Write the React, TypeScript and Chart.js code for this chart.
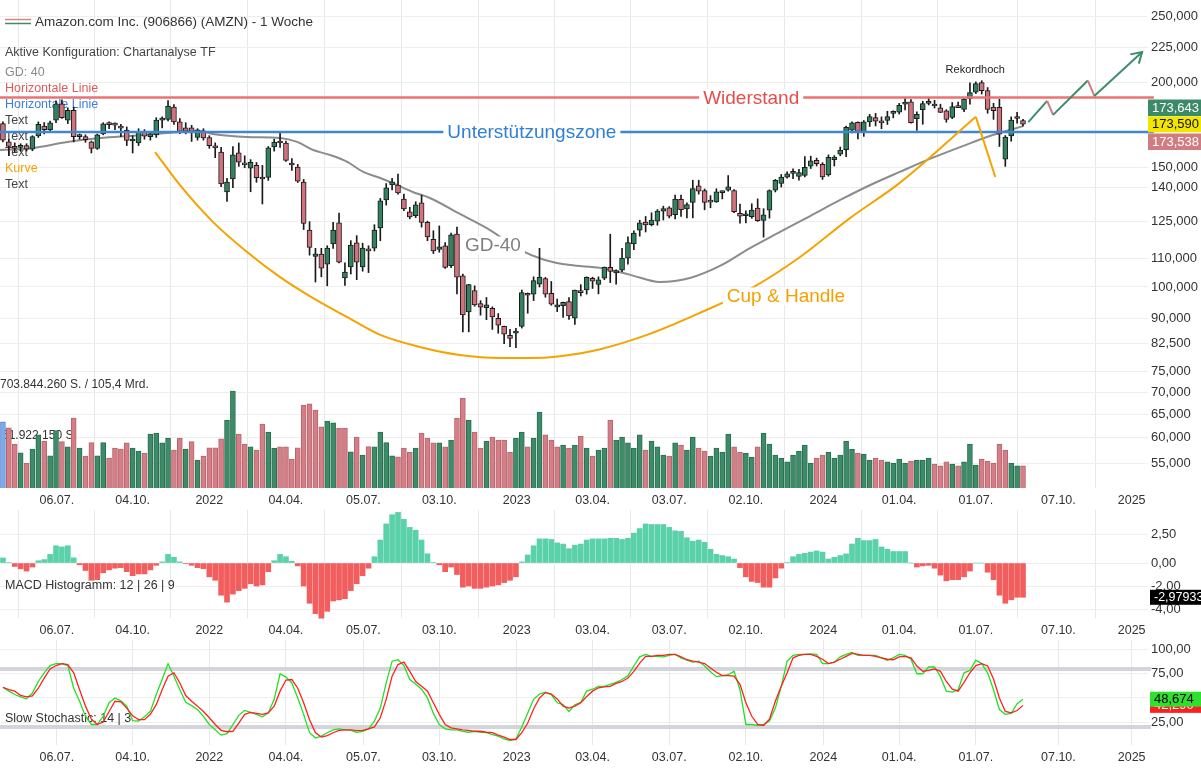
import React, { useEffect, useRef } from 'react';
import { Chart, registerables } from 'chart.js';

Chart.register(...registerables);

const FONT = '"Liberation Sans", Arial, Helvetica, sans-serif';

// ---------------- data ----------------
// week index: 0 = week of 05.07.2021, one candle per week
const FIRST_WEEK = -9;

const opens = [
  174, 163.5, 161, 160.5, 161.5, 159.5, 166.8, 172.5, 170.5, 176,
  186, 176, 182, 166.5, 166.5, 163.5, 160, 168, 174, 173.8,
  172.5, 170, 164, 163, 169, 166.5, 167.5, 176, 176.5, 184,
  175, 171.5, 171.5, 166, 169.8, 166, 160.5, 158, 138, 144.2,
  157.6, 152, 149.6, 151, 144.5, 145, 160.7, 164, 162.9, 151.6,
  150.2, 142.7, 121.3, 110.9, 111.8, 108, 115.7, 124.3, 103.1, 107,
  116.1, 107, 113.3, 114.1, 122.2, 134.3, 141.3, 141.3, 134.7, 129,
  127.3, 133, 124.5, 117.5, 113.6, 115, 107.5, 119.6, 103.9, 91.9,
  98.8, 94.5, 93.2, 93, 89.9, 87.5, 84.9, 85.5, 87.5, 97.5,
  97.6, 101, 102.9, 97.85, 93.5, 93.9, 95.2, 90, 98.4, 99,
  103, 100.9, 103, 106.9, 104.9, 105.9, 110.3, 115.7, 121.2, 124.6,
  123.5, 125, 129.3, 130.8, 127.8, 134.6, 130.3, 133.2, 140.9, 138.6,
  133.7, 133.4, 137.7, 138.8, 138.7, 128.4, 127.3, 126.9, 130.7, 125.3,
  129.7, 138.8, 142.1, 145.1, 147, 145.5, 146, 150.6, 153.6, 151.5,
  146.2, 154, 156.9, 159.3, 170.2, 174.8, 168.9, 175, 177.5, 175,
  175.8, 180.1, 180.8, 185.9, 187.3, 176.9, 182.4, 186.3, 185.4, 183.6,
  181.7, 177.7, 184.1, 182.5, 189.3, 193.5, 200, 194.6, 184, 183.8,
  154.2, 166.9, 177.5, 175.8,
];
const highs = [
  175, 165, 163, 162.5, 162.5, 167, 175, 174.6, 175.5, 188,
  188.6, 183.5, 184, 168, 167.5, 164, 168, 174.5, 175, 174.5,
  173.5, 172, 167, 171, 170.5, 169.5, 177.5, 178, 188.1, 185.5,
  177, 174.5, 173, 171, 171, 167, 163, 160.5, 144.5, 161,
  162.9, 156, 154, 152.5, 151, 161, 165, 169.1, 164, 154.5,
  151.5, 144, 124.8, 114, 114, 115, 124.5, 128.5, 108.5, 117,
  119, 116, 115, 123.5, 135, 142, 144.5, 146.6, 137, 131,
  133.5, 136.5, 125, 121, 123, 116.2, 120, 122.5, 104.5, 100.9,
  100.4, 95.5, 96.5, 93.5, 91.4, 87.6, 86.6, 86.9, 99, 98,
  103.5, 114, 103.3, 101.9, 96, 95, 96.5, 99, 100.8, 103.5,
  103.4, 103.5, 107, 119.6, 106, 114, 118.5, 121, 125.4, 127,
  128.6, 130, 131.5, 131.3, 136.6, 136.5, 133, 143.6, 143.6, 139.4,
  136.3, 139.5, 138.4, 145.9, 139.1, 132.5, 129.5, 132.6, 134.8, 130.4,
  139, 144, 146.4, 147.7, 149.3, 149, 155.6, 155.8, 154.8, 152.4,
  156.5, 156.1, 160.7, 172.5, 175, 175, 175.8, 179.5, 180.1, 178,
  181.4, 181.7, 186.3, 189.8, 188.7, 181, 187.7, 189.6, 188.3, 185.8,
  182.4, 186.9, 187.2, 189.8, 199.8, 200.4, 201.2, 196.6, 186.4, 189,
  167.1, 178, 180.8, 176.5,
];
const lows = [
  163.5, 156, 158, 158.5, 158.5, 158.7, 166, 168, 169.8, 174.5,
  177, 174, 163.5, 165, 163.3, 157.5, 159.4, 167.5, 171, 170.5,
  166.5, 161.5, 157.5, 161.5, 165, 164.5, 166, 171.5, 175.5, 173.5,
  168.2, 168, 163.8, 164.5, 164.5, 160, 155, 140.5, 133.6, 140,
  150.5, 149.8, 138.1, 142.6, 132.5, 143.5, 158.5, 160.5, 153, 148.5,
  142.5, 121.5, 111.4, 101.7, 103.5, 100.4, 114, 108.5, 100.5, 104.5,
  102.5, 105.5, 105, 113, 117, 132, 139, 137, 129.5, 126,
  126.5, 122.5, 117, 112, 112.5, 106.5, 106.8, 97.7, 85.9, 85.9,
  93.7, 90.9, 89.5, 86.6, 85.5, 82.5, 81.7, 81.4, 87, 91.5,
  95.5, 100, 96.6, 94, 92, 90.2, 89.6, 88.1, 97, 97.6,
  99.5, 97.7, 102.5, 101.5, 101, 105.3, 108, 113.5, 118.8, 120.5,
  123, 123.3, 125.5, 126.4, 125.9, 127, 126.4, 126.4, 137, 129.9,
  130.8, 133.2, 134.8, 138.4, 128.6, 124.1, 124.3, 126.2, 124.9, 118.4,
  126.3, 138, 140.3, 144.6, 144.4, 143.6, 145.2, 149.4, 150.7, 144,
  145.6, 150.7, 156, 155.6, 168.6, 165.2, 166.6, 172.3, 172.6, 171,
  173.5, 177.4, 179.7, 182.2, 174.2, 170, 173.6, 185.3, 183.4, 180.6,
  174.8, 176.9, 183.6, 181.2, 185.8, 192.6, 192.3, 180.2, 176.5, 161,
  150.5, 163.9, 174.3, 172.5,
];
const closes = [
  164.5, 161, 160, 160.8, 159.5, 166.5, 173.5, 170.5, 174.5, 186,
  177.5, 182, 166.4, 166.8, 164.7, 159.9, 167.5, 173.9, 173.4, 173.1,
  171.3, 164.3, 164.4, 169, 166.7, 168, 176, 176.2, 184.6, 175,
  169.4, 169.6, 169.5, 170.3, 165.7, 161.5, 160.2, 141.8, 142.7, 156.5,
  152.6, 151.3, 152.6, 144.8, 144.2, 160.2, 163.4, 162.9, 153.6, 151.2,
  143.2, 124, 114.4, 111.9, 106.6, 114.1, 121.3, 108.8, 105.2, 115.3,
  108.8, 114.1, 113, 121.3, 133.9, 139.9, 142.8, 137.5, 130.3, 126.8,
  132.1, 124.5, 118.5, 113, 114.6, 106.9, 119.3, 103.4, 91, 100.8,
  94.1, 93.4, 94.1, 90.35, 87.9, 85.25, 84, 86.1, 98.1, 97.25,
  102.2, 103.4, 97.6, 94.35, 93.5, 94.9, 90.7, 98.95, 98.1, 103.3,
  102, 102.5, 106.96, 105.45, 105.7, 110.3, 116.25, 120.1, 124.25, 123.4,
  125.5, 129.3, 130.4, 127.1, 134.7, 130, 132.2, 139.6, 138.4, 133.2,
  133.3, 138.1, 138.2, 140.4, 129.1, 127.1, 127.96, 129.8, 125.2, 127.7,
  138.6, 143.6, 145.2, 146.7, 147, 147.4, 149.97, 153.4, 151.9, 145.2,
  155.2, 155.3, 159.1, 171.8, 174.45, 169.5, 174.99, 178.2, 175.35, 174.4,
  178.15, 180.4, 185.1, 186.5, 174.6, 179.6, 186.2, 186.6, 184.7, 180.75,
  176.4, 184.3, 183.66, 189.1, 193.25, 199.3, 194.5, 182.5, 181.7, 167.9,
  166.2, 176.1, 177.04, 173.59,
];
// weekly volume, millions of shares
const volumesMio = [
  481, 437, 319, 256, 181, 283, 385, 341, 234, 416,
  336, 298, 508, 290, 232, 329, 234, 329, 218, 290,
  283, 327, 290, 268, 254, 392, 399, 327, 363, 276,
  363, 283, 336, 203, 232, 292, 292, 356, 493, 704,
  392, 319, 298, 276, 464, 406, 290, 298, 298, 210,
  292, 602, 610, 566, 443, 486, 472, 435, 435, 263,
  370, 239, 300, 298, 406, 329, 234, 227, 290, 261,
  290, 399, 363, 327, 327, 298, 348, 508, 653, 493,
  406, 290, 341, 370, 348, 348, 261, 363, 406, 298,
  363, 551, 385, 348, 298, 312, 290, 312, 377, 290,
  232, 276, 290, 493, 348, 370, 327, 290, 385, 276,
  341, 298, 239, 232, 327, 312, 276, 370, 290, 268,
  232, 290, 261, 392, 298, 261, 254, 225, 298, 399,
  319, 239, 218, 189, 239, 268, 312, 181, 218, 239,
  261, 218, 239, 341, 283, 254, 247, 203, 218, 203,
  189, 181, 210, 181, 196, 203, 203, 218, 174, 160,
  189, 174, 160, 189, 319, 167, 210, 196, 181, 319,
  276, 181, 160, 160,
];
const gd40Weeks = [
  -9.5, -3.9, 1.9, 7.5, 13.1, 18.8, 24.4, 26.6, 32.4, 38.0,
  40.9, 43.6, 46.5, 49.4, 52.1, 55.0, 57.8, 60.5, 63.4, 68.5,
  73.6, 78.7, 82.9, 87.2, 92.3, 97.4, 102.4, 107.5, 112.6, 117.7,
  122.8, 127.9, 133.0, 138.1, 143.1, 148.7, 154.0, 159.0, 164.0,
];
const gd40Values = [
  159.1, 160.2, 163.5, 165.7, 167.0, 168.5, 169.7, 168.0, 166.3, 165.7,
  163.5, 159.1, 156.4, 152.8, 147.7, 144.7, 141.3, 138.0, 135.2, 128.1,
  121.3, 113.4, 109.6, 107.7, 106.7, 104.2, 101.7, 103.1, 107.4, 114.1,
  120.5, 127.2, 134.3, 141.3, 147.7, 155.0, 161.5, 167.5, 172.5,
];
const macdHist = [
  0.44, 0.05, -0.3, -0.5, -0.7, -0.35, 0.2, 0.3, 0.75, 1.5,
  1.4, 1.5, 0.45, -0.15, -0.65, -1.5, -1.45, -0.85, -0.6, -0.45,
  -0.4, -0.75, -1.1, -0.95, -0.95, -0.6, -0.2, 0.1, 0.75, 0.5,
  0.1, -0.05, -0.2, -0.4, -0.5, -1.2, -1.5, -2.8, -3.4, -2.7,
  -2.4, -2.2, -1.8, -2.0, -1.9, -0.75, 0.2, 0.75, 0.55, 0.15,
  -0.25, -2.0, -3.5, -4.4, -4.8, -4.2, -3.3, -3.2, -3.1, -2.4,
  -1.8, -1.1, -0.45, 0.55, 2.0, 3.4, 4.2, 4.4, 3.8, 3.1,
  2.85, 2.0, 0.8, 0.05, -0.15, -0.75, -0.35, -1.0, -2.1, -2.0,
  -2.2, -2.2, -2.1, -2.0, -1.9, -1.7, -1.5, -1.2, 0.1, 0.7,
  1.5, 2.1, 2.1, 2.05, 1.75, 1.65, 1.25, 1.55, 1.65, 2.0,
  2.1, 2.1, 2.1, 2.15, 2.15, 2.05, 2.15, 2.6, 3.0, 3.4,
  3.35, 3.35, 3.35, 3.1, 2.8, 2.75, 2.2, 1.9, 2.0, 1.8,
  1.2, 0.75, 0.65, 0.55, 0.35, -0.4, -1.2, -1.6, -1.7, -2.1,
  -2.1, -1.3, -0.45, 0.05, 0.55, 0.75, 0.85, 0.95, 1.05, 0.95,
  0.35, 0.5, 0.65, 0.8, 1.65, 2.15, 1.95, 1.95, 2.05, 1.4,
  1.2, 1.0, 1.0, 1.0, 0, -0.35, -0.25, -0.2, -0.45, -1.05,
  -1.55, -1.45, -1.45, -1.2, -0.7, 0, 0, -0.8, -1.45, -2.8,
  -3.5, -3.2, -2.98, -2.97933,
];
const stochK = [
  61, 57, 53.5, 51, 49, 55, 67, 76, 83.5, 85.5,
  85.5, 83.5, 60, 46.5, 31, 22.5, 22.5, 31, 45, 50,
  47, 41.5, 26.5, 26, 30.5, 36, 53.5, 69, 85.5, 72.5,
  58.5, 45.5, 42, 38, 31, 22.5, 17, 11.5, 13, 22.5,
  32, 37, 35, 33, 30.5, 34.5, 48.5, 75, 71.5, 65.5,
  50, 33, 14, 8.5, 10.5, 14, 17, 18, 17, 16.5,
  14.5, 15.5, 18, 26, 39.5, 65.5, 88, 89.5, 83.5, 69,
  64.5, 59, 50, 34, 22.5, 18, 17, 17, 15.5, 14.5,
  15.5, 14.5, 14, 12, 10.5, 7.5, 6, 7.5, 20, 34.5,
  48.5, 54, 56, 53.5, 45, 43, 36, 43, 45.5, 57,
  59, 62, 62, 64, 66, 69, 73, 83, 92.5, 95,
  93, 93, 92.5, 94, 95, 91.5, 89, 87, 88, 83,
  77, 72, 73, 74, 77.5, 58.5, 22.5, 22.5, 21.5, 22.5,
  26, 39.5, 62, 88, 94, 95, 95, 95.5, 95, 85.5,
  85.5, 87, 92.5, 95, 97, 94, 94, 94, 94, 91.5,
  89, 91.5, 95, 94, 90, 75, 75, 82, 82, 72,
  57, 56, 58.5, 76, 78.5, 89, 85.5, 76, 58.5, 38,
  33, 34, 44, 48.674,
];
const stochD = [
  61, 58.5, 57, 52.5, 51, 52, 60, 70.5, 80, 83.5,
  85.5, 84.5, 76, 58.5, 41.5, 28, 22.5, 25, 36, 46.5,
  46, 39.5, 31.5, 27.5, 27.5, 33, 43, 58.5, 72.5, 76,
  65.5, 52.5, 46.5, 41.5, 36, 29.5, 22.5, 16.5, 15, 15.5,
  24, 33, 35, 34, 33, 34.5, 41.5, 57, 68.5, 69,
  60, 45, 27.5, 14, 9.5, 11, 14, 16.5, 17, 17,
  16.5, 16.5, 18, 20, 29.5, 48.5, 72.5, 84.5, 87, 77.5,
  67, 62, 57, 45, 33, 22.5, 19, 18, 17, 16.5,
  15.5, 15.5, 14.5, 14, 11.5, 9.5, 7, 7, 14, 24,
  38.5, 50, 55.5, 54, 49, 41.5, 39.5, 41.5, 45, 51.5,
  57, 60.5, 61.5, 62, 65, 67, 70.5, 77.5, 86, 93,
  93, 94, 94, 95, 95, 92.5, 89.5, 88, 87, 85.5,
  81, 76.5, 73, 73, 72.5, 64, 45, 31, 22.5, 21.5,
  28, 46.5, 62, 76, 91.5, 94, 95, 95, 93, 90,
  85.5, 87, 90, 93, 96, 95, 94, 94, 93, 91.5,
  90, 89.5, 92.5, 93, 91.5, 83, 77.5, 78.5, 80, 77.5,
  67, 59, 57, 66, 76, 83.5, 85.5, 83, 69.5, 50,
  36, 34.5, 37, 42.29,
];

const xTickWeeks = [0.14, 13, 26, 39, 52.14, 65, 78.14, 91, 104, 117, 130.14, 143, 156, 170, 182.43];
const xTickLabels = ['06.07.', '04.10.', '2022', '04.04.', '05.07.', '03.10.', '2023', '03.04.', '03.07.', '02.10.', '2024', '01.04.', '01.07.', '07.10.', '2025'];
const priceTicks = [250, 225, 200, 150, 140, 125, 110, 100, 90, 82.5, 75, 70, 65, 60, 55];
const macdTicks = [2.5, 0, -2, -4];
const stochTicks = [100, 75, 50, 25];

const resistanceLevel = 190.1;
const supportLevel = 169.1;
const cupWeeks = [16.8, 21.0, 26.6, 32.4, 38.0, 43.6, 49.4, 55.0, 61.7, 68.5, 75.3, 80.4, 85.5, 92.3, 100.7, 109.2, 117.7, 126.2, 134.7, 143.1, 156.0];
const cupPrices = [158.0, 141.3, 124.7, 112.6, 103.4, 96.3, 90.3, 85.0, 81.6, 79.4, 78.6, 78.6, 79.1, 81.0, 85.3, 91.6, 99.3, 110.7, 126.4, 142.3, 178.0];
const handleWeeks = [156.0, 159.3];
const handlePrices = [178.0, 145.2];
const projWeeks = [164.9, 168.1, 169.1, 175.0, 176.1, 184.2];
const projPrices = [174.9, 187.9, 179.2, 201.3, 191.1, 221.7];

const quoteTags = ['173,643', '173,590', '173,538'];
const lastPrice = 173.59;
const maxVolumeText = '703.844.260 S. / 105,4 Mrd.';
const lastVolumeText = '51.922.150 S.';
const macdLastText = '-2,97933';
const stochLastK = 48.674;
const stochLastD = 42.29;

const titleText = 'Amazon.com Inc. (906866) (AMZN) - 1 Woche';
const legendItems: [string, string][] = [
  ['Aktive Konfiguration: Chartanalyse TF', '#444444'],
  ['GD: 40', '#8a8a8a'],
  ['Horizontale Linie', '#e25a5a'],
  ['Horizontale Linie', '#3a82d6'],
  ['Text', '#444444'],
  ['Text', '#444444'],
  ['Text', '#444444'],
  ['Kurve', '#f5a300'],
  ['Text', '#444444'],
];
const chartLabels = [
  { text: 'Widerstand', week: 117.9, price: 190.1, color: '#e94b4b', size: 19, bg: true },
  { text: 'Unterstützungszone', week: 80.7, price: 169.1, color: '#2f7fd3', size: 19, bg: true },
  { text: 'GD-40', week: 74.1, price: 115.3, color: '#808080', size: 19, bg: true },
  { text: 'Cup & Handle', week: 123.8, price: 97.0, color: '#f5a000', size: 19, bg: true },
  { text: 'Rekordhoch', week: 155.9, price: 209.4, color: '#222222', size: 11, bg: false },
];

// ---------------- styling / helpers ----------------
const X_MIN = -9.5;
const X_MAX = 185.2;
const PRICE_MIN = 50.6;
const PRICE_MAX = 264.5;
const VOL_MAX = 3541;
const MACD_MIN = -4.78;
const MACD_MAX = 4.61;
const STOCH_MIN = 1.3;
const STOCH_MAX = 109.9;
const AXIS_W = 53;

const C_GREEN = '#32825f';
const C_RED = '#d0737d';

const week = (k: number) => FIRST_WEEK + k;
const fmt = (v: number, d: number) => v.toFixed(d).replace('.', ',');

function xAxis(h: number): any {
  return {
    type: 'linear',
    position: 'bottom',
    min: X_MIN,
    max: X_MAX,
    bounds: 'data',
    offset: false,
    afterBuildTicks: (s: any) => {
      s.ticks = xTickWeeks.map((v) => ({ value: v }));
    },
    afterFit: (s: any) => {
      s.height = h;
      s.paddingLeft = 0;
      s.paddingRight = 0;
    },
    ticks: {
      autoSkip: false,
      maxRotation: 0,
      minRotation: 0,
      padding: 5,
      color: '#333333',
      font: { size: 12.5, family: FONT },
      callback: (_v: any, i: number) => xTickLabels[i],
    },
    grid: { color: '#e8e8e8', drawTicks: false, lineWidth: 1 },
    border: { display: false },
  };
}

function rightAxis(min: number, max: number, ticks: number[], fmtFn: (v: number) => string, type = 'linear'): any {
  return {
    type,
    position: 'right',
    min,
    max,
    bounds: 'data',
    afterBuildTicks: (s: any) => {
      s.ticks = ticks.map((v) => ({ value: v }));
    },
    afterFit: (s: any) => {
      s.width = AXIS_W;
      s.paddingTop = 0;
      s.paddingBottom = 0;
    },
    ticks: {
      autoSkip: false,
      padding: 3,
      color: '#333333',
      font: { size: 13, family: FONT },
      callback: (v: any) => fmtFn(Number(v)),
    },
    grid: { color: '#eeeeee', drawTicks: false },
    border: { display: false },
  };
}

const baseOptions: any = {
  responsive: false,
  maintainAspectRatio: false,
  animation: false,
  devicePixelRatio: 1,
  events: [],
  layout: { padding: 0 },
  plugins: { legend: { display: false }, tooltip: { enabled: false } },
};

function tag(ctx: any, x: number, cy: number, h: number, w: number, text: string, bg: string, fg: string, size = 13) {
  ctx.fillStyle = bg;
  ctx.fillRect(x, cy - h / 2, w, h);
  ctx.fillStyle = fg;
  ctx.font = `${size}px ${FONT}`;
  ctx.textAlign = 'left';
  ctx.textBaseline = 'middle';
  ctx.fillText(text, x + 4, cy + 0.5);
}

// ---------------- charts ----------------
function makePriceChart(canvas: HTMLCanvasElement) {
  const candleUp = closes.map((c, k) => c >= opens[k]);
  const volColors = closes.map((c, k) => (k === 0 ? '#7fa9ea' : c >= closes[k - 1] ? '#3c8c69' : '#d47f87'));
  const volBorders = closes.map((c, k) => (k === 0 ? '#5b88d0' : c >= closes[k - 1] ? '#2a6e50' : '#b8646c'));

  const decor = {
    id: 'priceDecor',
    beforeDatasetsDraw(chart: any) {
      const ctx = chart.ctx;
      const yv = chart.scales.yv;
      ctx.save();
      ctx.textAlign = 'left';
      ctx.textBaseline = 'middle';
      ctx.lineWidth = 1.5;
      ctx.strokeStyle = '#e08080';
      ctx.beginPath();
      ctx.moveTo(5, 19.5);
      ctx.lineTo(31, 19.5);
      ctx.stroke();
      ctx.strokeStyle = '#3c8c69';
      ctx.beginPath();
      ctx.moveTo(5, 23.5);
      ctx.lineTo(31, 23.5);
      ctx.stroke();
      ctx.font = `13.5px ${FONT}`;
      ctx.fillStyle = '#333333';
      ctx.fillText(titleText, 35, 22);
      ctx.font = `12.5px ${FONT}`;
      legendItems.forEach(([t, c], i) => {
        ctx.fillStyle = c;
        const y = i === 0 ? 53 : 73 + (i - 1) * 16;
        ctx.fillText(t, 5, y);
      });
      ctx.font = `12px ${FONT}`;
      ctx.fillStyle = '#333333';
      ctx.fillText(maxVolumeText, 0, yv.getPixelForValue(704) - 6);
      ctx.fillText(lastVolumeText, 2, yv.getPixelForValue(380));
      ctx.restore();
    },
    afterDatasetsDraw(chart: any) {
      const ctx = chart.ctx;
      const xs = chart.scales.x;
      const ys = chart.scales.y;
      ctx.save();
      chartLabels.forEach((l) => {
        const cx = xs.getPixelForValue(l.week);
        const cy = ys.getPixelForValue(l.price);
        ctx.font = `${l.size}px ${FONT}`;
        const w = ctx.measureText(l.text).width;
        if (l.bg) {
          ctx.fillStyle = '#ffffff';
          ctx.fillRect(cx - w / 2 - 4, cy - l.size * 0.45, w + 8, l.size * 0.95);
        }
        ctx.fillStyle = l.color;
        ctx.textAlign = 'center';
        ctx.textBaseline = 'middle';
        ctx.fillText(l.text, cx, cy + 1);
      });
      const meta = chart.data.datasets.findIndex((d: any) => d.label === 'proj');
      const pts = chart.getDatasetMeta(meta).data;
      const a = pts[pts.length - 2];
      const b = pts[pts.length - 1];
      const ang = Math.atan2(b.y - a.y, b.x - a.x);
      ctx.strokeStyle = '#3c8c69';
      ctx.lineWidth = 2;
      ctx.beginPath();
      ctx.moveTo(b.x - 12 * Math.cos(ang - 0.55), b.y - 12 * Math.sin(ang - 0.55));
      ctx.lineTo(b.x, b.y);
      ctx.lineTo(b.x - 12 * Math.cos(ang + 0.55), b.y - 12 * Math.sin(ang + 0.55));
      ctx.stroke();
      ctx.restore();
    },
    afterDraw(chart: any) {
      const ctx = chart.ctx;
      const ys = chart.scales.y;
      const x0 = chart.chartArea.right;
      const w = chart.width - x0;
      const py = ys.getPixelForValue(lastPrice);
      ctx.save();
      tag(ctx, x0, py - 16.5, 16.5, w, quoteTags[0], '#3b8a68', '#ffffff');
      tag(ctx, x0, py + 17.5, 16.5, w, quoteTags[2], '#d17b83', '#ffffff');
      tag(ctx, x0, py, 16, w, quoteTags[1], '#f2e600', '#111111');
      ctx.restore();
    },
  };

  return new Chart(canvas, {
    type: 'bar',
    data: {
      datasets: [
        {
          type: 'bar',
          label: 'volume',
          yAxisID: 'yv',
          data: volumesMio.map((v, k) => ({ x: week(k), y: v })),
          backgroundColor: volColors,
          borderColor: volBorders,
          borderWidth: 1,
          barThickness: 5,
          grouped: false,
          order: 10,
        },
        {
          type: 'line',
          label: 'gd40',
          yAxisID: 'y',
          data: gd40Weeks.map((w, k) => ({ x: w, y: gd40Values[k] })),
          borderColor: '#8c8c8c',
          borderWidth: 2,
          pointRadius: 0,
          cubicInterpolationMode: 'monotone',
          order: 9,
        },
        {
          type: 'bar',
          label: 'wick',
          yAxisID: 'y',
          data: highs.map((h, k) => ({ x: week(k), y: [lows[k], h] })),
          backgroundColor: '#1a1a1a',
          barThickness: 1,
          grouped: false,
          order: 6,
        },
        {
          type: 'bar',
          label: 'body',
          yAxisID: 'y',
          data: opens.map((o, k) => ({ x: week(k), y: [Math.min(o, closes[k]), Math.max(o, closes[k])] })),
          backgroundColor: candleUp.map((u) => (u ? C_GREEN : C_RED)),
          borderColor: '#1a1a1a',
          borderWidth: 1,
          borderSkipped: false,
          minBarLength: 2,
          barThickness: 5,
          grouped: false,
          order: 5,
        },
        {
          type: 'line',
          label: 'resistance',
          yAxisID: 'y',
          data: [{ x: X_MIN, y: resistanceLevel }, { x: X_MAX + 1, y: resistanceLevel }],
          borderColor: '#ec7272',
          borderWidth: 2.5,
          pointRadius: 0,
          clip: false,
          order: 4,
        },
        {
          type: 'line',
          label: 'support',
          yAxisID: 'y',
          data: [{ x: X_MIN, y: supportLevel }, { x: X_MAX + 1, y: supportLevel }],
          borderColor: '#3f86d6',
          borderWidth: 2.5,
          pointRadius: 0,
          clip: false,
          order: 4,
        },
        {
          type: 'line',
          label: 'cup',
          yAxisID: 'y',
          data: cupWeeks.map((w, k) => ({ x: w, y: cupPrices[k] })),
          borderColor: '#f5a300',
          borderWidth: 2,
          pointRadius: 0,
          cubicInterpolationMode: 'monotone',
          order: 3,
        },
        {
          type: 'line',
          label: 'handle',
          yAxisID: 'y',
          data: handleWeeks.map((w, k) => ({ x: w, y: handlePrices[k] })),
          borderColor: '#f5a300',
          borderWidth: 2,
          pointRadius: 0,
          order: 3,
        },
        {
          type: 'line',
          label: 'proj',
          yAxisID: 'y',
          data: projWeeks.map((w, k) => ({ x: w, y: projPrices[k] })),
          borderColor: '#3c8c69',
          borderWidth: 2,
          pointRadius: 0,
          clip: false,
          segment: {
            borderColor: (c: any) => (c.p1.parsed.y < c.p0.parsed.y ? '#d07a82' : '#3c8c69'),
          },
          order: 2,
        },
      ] as any,
    },
    options: {
      ...baseOptions,
      scales: {
        x: xAxis(22),
        y: rightAxis(PRICE_MIN, PRICE_MAX, priceTicks, (v) => fmt(v, 3), 'logarithmic'),
        yv: { type: 'linear', display: false, min: 0, max: VOL_MAX },
      },
    },
    plugins: [decor],
  } as any);
}

function makeMacdChart(canvas: HTMLCanvasElement) {
  const decor = {
    id: 'macdDecor',
    afterDatasetsDraw(chart: any) {
      const ctx = chart.ctx;
      ctx.save();
      ctx.font = `12.5px ${FONT}`;
      ctx.fillStyle = '#333333';
      ctx.textAlign = 'left';
      ctx.textBaseline = 'middle';
      ctx.fillText('MACD Histogramm: 12 | 26 | 9', 5, chart.scales.y.getPixelForValue(-2));
      ctx.restore();
    },
    afterDraw(chart: any) {
      const ctx = chart.ctx;
      const x0 = chart.chartArea.right + 2;
      ctx.save();
      tag(ctx, x0, chart.scales.y.getPixelForValue(macdHist[macdHist.length - 1]), 15, chart.width - x0, macdLastText, '#000000', '#ffffff', 12.5);
      ctx.restore();
    },
  };
  return new Chart(canvas, {
    type: 'bar',
    data: {
      datasets: [
        {
          data: macdHist.map((v, k) => ({ x: week(k), y: v })),
          backgroundColor: macdHist.map((v) => (v >= 0 ? '#5bd1a9' : '#f25e5e')),
          borderWidth: 0,
          barThickness: 5,
          grouped: false,
          clip: false,
        },
      ],
    },
    options: {
      ...baseOptions,
      scales: {
        x: xAxis(22),
        y: rightAxis(MACD_MIN, MACD_MAX, macdTicks, (v) => fmt(v, 2)),
      },
    },
    plugins: [decor],
  } as any);
}

function makeStochChart(canvas: HTMLCanvasElement) {
  const decor = {
    id: 'stochDecor',
    beforeDatasetsDraw(chart: any) {
      const ctx = chart.ctx;
      ctx.save();
      ctx.font = `12.5px ${FONT}`;
      ctx.fillStyle = '#333333';
      ctx.textAlign = 'left';
      ctx.textBaseline = 'middle';
      ctx.fillText('Slow Stochastic: 14 | 3', 5, chart.scales.y.getPixelForValue(29));
      ctx.restore();
    },
    afterDraw(chart: any) {
      const ctx = chart.ctx;
      const ys = chart.scales.y;
      const x0 = chart.chartArea.right + 2;
      ctx.save();
      tag(ctx, x0, ys.getPixelForValue(stochLastD), 15, chart.width - x0, fmt(stochLastD, 3), '#ff1f1f', '#ffffff', 13);
      tag(ctx, x0, ys.getPixelForValue(stochLastK), 15, chart.width - x0, fmt(stochLastK, 3), '#2fe02f', '#000000', 13);
      ctx.restore();
    },
  };
  const level = (v: number) => ({
    type: 'line',
    data: [{ x: X_MIN, y: v }, { x: X_MAX + 0.5, y: v }],
    borderColor: '#d3d5da',
    borderWidth: 4,
    pointRadius: 0,
    clip: false,
    order: 5,
  });
  return new Chart(canvas, {
    type: 'line',
    data: {
      datasets: [
        level(80),
        level(20),
        {
          data: stochK.map((v, k) => ({ x: week(k), y: v })),
          borderColor: '#22e022',
          borderWidth: 1.3,
          pointRadius: 0,
          clip: false,
          order: 2,
        },
        {
          data: stochD.map((v, k) => ({ x: week(k), y: v })),
          borderColor: '#ff2020',
          borderWidth: 1.3,
          pointRadius: 0,
          clip: false,
          order: 1,
        },
      ] as any,
    },
    options: {
      ...baseOptions,
      scales: {
        x: xAxis(31),
        y: rightAxis(STOCH_MIN, STOCH_MAX, stochTicks, (v) => (v === 50 ? '' : fmt(v, 2))),
      },
    },
    plugins: [decor],
  } as any);
}

export default function App() {
  const priceRef = useRef<HTMLCanvasElement>(null);
  const macdRef = useRef<HTMLCanvasElement>(null);
  const stochRef = useRef<HTMLCanvasElement>(null);

  useEffect(() => {
    const charts = [
      makePriceChart(priceRef.current as HTMLCanvasElement),
      makeMacdChart(macdRef.current as HTMLCanvasElement),
      makeStochChart(stochRef.current as HTMLCanvasElement),
    ];
    return () => charts.forEach((c) => c.destroy());
  }, []);

  return (
    <div style={{ position: 'absolute', left: 0, top: 0, width: 1201, height: 776, background: '#ffffff', overflow: 'hidden' }}>
      <canvas ref={priceRef} width={1201} height={510} style={{ position: 'absolute', left: 0, top: 0 }} />
      <canvas ref={macdRef} width={1201} height={130} style={{ position: 'absolute', left: 0, top: 510 }} />
      <canvas ref={stochRef} width={1201} height={136} style={{ position: 'absolute', left: 0, top: 640 }} />
    </div>
  );
}
